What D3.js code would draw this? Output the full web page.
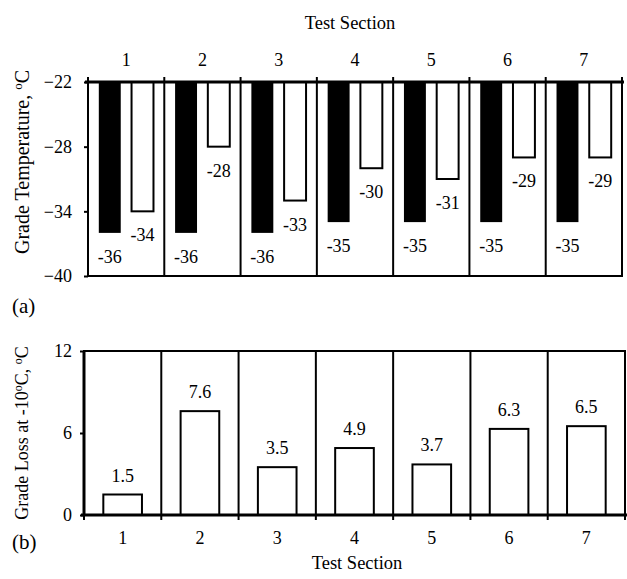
<!DOCTYPE html>
<html>
<head>
<meta charset="utf-8">
<script src="https://cdn.jsdelivr.net/npm/d3@7"></script>
<style>
  body { margin: 0; background: #fff; }
  text { font-family: "Liberation Serif", "Times New Roman", serif; fill: #000; }
</style>
</head>
<body>
<div id="chart"></div>
<script>
// data
const sections = ["1", "2", "3", "4", "5", "6", "7"];
const gradeTempBlack = [-36, -36, -36, -35, -35, -35, -35];
const gradeTempWhite = [-34, -28, -33, -30, -31, -29, -29];
const gradeLoss = [1.5, 7.6, 3.5, 4.9, 3.7, 6.3, 6.5];
const tempTicks = [-22, -28, -34, -40];
const lossTicks = [0, 6, 12];

const W = 627, H = 579;
const FS = "18px";

let svg = d3.select("#chart").append("svg")
  .attr("width", W)
  .attr("height", H);

// ---------- (a) grade temperature ----------
let xA = d3.scaleBand().domain(sections).range([88, 622]).padding(0);
let yA = d3.scaleLinear().domain([-40, -22]).range([276, 82]);
let sub = d3.scaleBand().domain(["black", "white"]).range([0, xA.bandwidth()])
  .paddingInner(0.33).paddingOuter(0.33);

let gA = svg.append("g");

// frame + separators
gA.append("rect")
  .attr("x", xA.range()[0]).attr("y", yA(-22))
  .attr("width", xA.range()[1] - xA.range()[0]).attr("height", yA(-40) - yA(-22))
  .attr("fill", "none").attr("stroke", "#000").attr("stroke-width", 2);

gA.selectAll(".sep")
  .data(sections.slice(1))
  .enter().append("line")
  .attr("x1", d => xA(d)).attr("x2", d => xA(d))
  .attr("y1", yA(-22)).attr("y2", yA(-40))
  .attr("stroke", "#000").attr("stroke-width", 2);

// black bars
gA.selectAll(".barK")
  .data(sections)
  .enter().append("rect")
  .attr("x", d => xA(d) + sub("black"))
  .attr("y", yA(-22))
  .attr("width", sub.bandwidth())
  .attr("height", (d, i) => yA(gradeTempBlack[i]) - yA(-22))
  .attr("fill", "#000");

// white bars
gA.selectAll(".barW")
  .data(sections)
  .enter().append("rect")
  .attr("x", d => xA(d) + sub("white"))
  .attr("y", yA(-22))
  .attr("width", sub.bandwidth())
  .attr("height", (d, i) => yA(gradeTempWhite[i]) - yA(-22))
  .attr("fill", "#fff").attr("stroke", "#000").attr("stroke-width", 2);

// value labels
gA.selectAll(".lblK")
  .data(sections)
  .enter().append("text")
  .attr("x", d => xA(d) + sub("black") + sub.bandwidth() / 2)
  .attr("y", (d, i) => yA(gradeTempBlack[i]) + 30)
  .attr("text-anchor", "middle").style("font-size", FS)
  .text((d, i) => gradeTempBlack[i]);

gA.selectAll(".lblW")
  .data(sections)
  .enter().append("text")
  .attr("x", d => xA(d) + sub("white") + sub.bandwidth() / 2)
  .attr("y", (d, i) => yA(gradeTempWhite[i]) + 30)
  .attr("text-anchor", "middle").style("font-size", FS)
  .text((d, i) => gradeTempWhite[i]);

// top axis line (thicker)
gA.append("line")
  .attr("x1", 85).attr("x2", 624)
  .attr("y1", yA(-22)).attr("y2", yA(-22))
  .attr("stroke", "#000").attr("stroke-width", 3);

// top ticks at section boundaries
let edgesA = sections.map(d => xA(d)).concat([xA.range()[1]]);
gA.selectAll(".tickT")
  .data(edgesA)
  .enter().append("line")
  .attr("x1", d => d).attr("x2", d => d)
  .attr("y1", yA(-22) - 5).attr("y2", yA(-22))
  .attr("stroke", "#000").attr("stroke-width", 2);

// top category labels
let axTop = gA.append("g")
  .attr("transform", `translate(0,${yA(-22) - 8})`)
  .call(d3.axisTop(xA).tickSize(0).tickPadding(8));
axTop.select(".domain").remove();
axTop.selectAll("text").style("font-size", FS).style("font-family", "Liberation Serif");

// left axis
let axLeftA = gA.append("g")
  .attr("transform", `translate(${xA.range()[0]},0)`)
  .call(d3.axisLeft(yA).tickValues(tempTicks).tickSize(4).tickPadding(12));
axLeftA.select(".domain").remove();
axLeftA.selectAll("line").attr("stroke-width", 2);
axLeftA.selectAll("text").style("font-size", FS).style("font-family", "Liberation Serif");

// titles
svg.append("text")
  .attr("x", 350).attr("y", 29)
  .attr("text-anchor", "middle").style("font-size", "18.5px")
  .text("Test Section");

let tA = svg.append("text")
  .attr("transform", "translate(29,162) rotate(-90)")
  .attr("text-anchor", "middle").style("font-size", "20px");
tA.append("tspan").text("Grade Temperature, ");
tA.append("tspan").attr("dy", -7).style("font-size", "13px").text("o");
tA.append("tspan").attr("dy", 7).text("C");

svg.append("text")
  .attr("x", 12).attr("y", 313)
  .style("font-size", "21px")
  .text("(a)");

// ---------- (b) grade loss ----------
let xB = d3.scaleBand().domain(sections).range([84, 625]).padding(0);
let yB = d3.scaleLinear().domain([0, 12]).range([515, 351]);

let gB = svg.append("g");

gB.append("rect")
  .attr("x", xB.range()[0]).attr("y", yB(12))
  .attr("width", xB.range()[1] - xB.range()[0]).attr("height", yB(0) - yB(12))
  .attr("fill", "none").attr("stroke", "#000").attr("stroke-width", 2);

gB.selectAll(".sep")
  .data(sections.slice(1))
  .enter().append("line")
  .attr("x1", d => xB(d)).attr("x2", d => xB(d))
  .attr("y1", yB(12)).attr("y2", yB(0))
  .attr("stroke", "#000").attr("stroke-width", 2);

// left border slightly heavier
gB.append("line")
  .attr("x1", xB.range()[0]).attr("x2", xB.range()[0])
  .attr("y1", yB(12)).attr("y2", yB(0))
  .attr("stroke", "#000").attr("stroke-width", 3);

gB.selectAll(".barL")
  .data(sections)
  .enter().append("rect")
  .attr("x", d => xB(d) + xB.bandwidth() * 0.25)
  .attr("y", (d, i) => yB(gradeLoss[i]))
  .attr("width", xB.bandwidth() * 0.5)
  .attr("height", (d, i) => yB(0) - yB(gradeLoss[i]))
  .attr("fill", "#fff").attr("stroke", "#000").attr("stroke-width", 2);

gB.selectAll(".lblL")
  .data(sections)
  .enter().append("text")
  .attr("x", d => xB(d) + xB.bandwidth() / 2)
  .attr("y", (d, i) => yB(gradeLoss[i]) - 13)
  .attr("text-anchor", "middle").style("font-size", FS)
  .text((d, i) => gradeLoss[i].toFixed(1));

// bottom axis line
gB.append("line")
  .attr("x1", 81).attr("x2", 627)
  .attr("y1", yB(0)).attr("y2", yB(0))
  .attr("stroke", "#000").attr("stroke-width", 3);

let edgesB = sections.map(d => xB(d)).concat([xB.range()[1]]);
gB.selectAll(".tickB")
  .data(edgesB)
  .enter().append("line")
  .attr("x1", d => d).attr("x2", d => d)
  .attr("y1", yB(0)).attr("y2", yB(0) + 5)
  .attr("stroke", "#000").attr("stroke-width", 2);

let axBot = gB.append("g")
  .attr("transform", `translate(0,${yB(0) + 8})`)
  .call(d3.axisBottom(xB).tickSize(0).tickPadding(8));
axBot.select(".domain").remove();
axBot.selectAll("text").style("font-size", FS).style("font-family", "Liberation Serif");

let axLeftB = gB.append("g")
  .attr("transform", `translate(${xB.range()[0]},0)`)
  .call(d3.axisLeft(yB).tickValues(lossTicks).tickSize(4).tickPadding(8));
axLeftB.select(".domain").remove();
axLeftB.selectAll("line").attr("stroke-width", 2);
axLeftB.selectAll("text").style("font-size", FS).style("font-family", "Liberation Serif");

svg.append("text")
  .attr("x", 357).attr("y", 569)
  .attr("text-anchor", "middle").style("font-size", "18.5px")
  .text("Test Section");

let tB = svg.append("text")
  .attr("transform", "translate(28,433) rotate(-90)")
  .attr("text-anchor", "middle").style("font-size", "18px");
tB.append("tspan").text("Grade Loss at -10");
tB.append("tspan").attr("dy", -6).style("font-size", "12px").text("o");
tB.append("tspan").attr("dy", 6).text("C, ");
tB.append("tspan").attr("dy", -6).style("font-size", "12px").text("o");
tB.append("tspan").attr("dy", 6).text("C");

svg.append("text")
  .attr("x", 12).attr("y", 549)
  .style("font-size", "21px")
  .text("(b)");
</script>
</body>
</html>
